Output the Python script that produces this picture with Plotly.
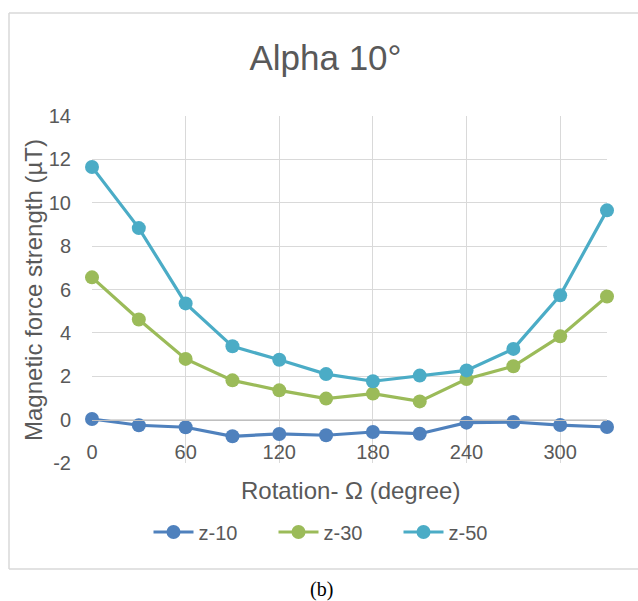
import plotly.graph_objects as go

rotation = [0, 30, 60, 90, 120, 150, 180, 210, 240, 270, 300, 330]
z10 = [0.03, -0.26, -0.35, -0.77, -0.66, -0.72, -0.57, -0.65, -0.14, -0.11, -0.25, -0.34]
z30 = [6.56, 4.62, 2.80, 1.81, 1.35, 0.97, 1.20, 0.84, 1.87, 2.46, 3.84, 5.68]
z50 = [11.65, 8.83, 5.36, 3.38, 2.76, 2.10, 1.77, 2.03, 2.27, 3.26, 5.73, 9.65]
series = [("z-10", z10, "#4F81BD"), ("z-30", z30, "#9BBB59"), ("z-50", z50, "#4BACC6")]
y_ticks = [-2, 0, 2, 4, 6, 8, 10, 12, 14]
y_tick_labels = ["-2", "0", "2", "4", "6", "8", "10", "12", "14"]
x_ticks = [0, 60, 120, 180, 240, 300]
x_tick_labels = ["0", "60", "120", "180", "240", "300"]

TXT = "#595959"
GRID = "#D9D9D9"
FONT = "Liberation Sans, Arial, sans-serif"

W, H = 638, 601
L, R, T, B = 92, 31, 116, 138
pw, ph = W - L - R, H - T - B

def px_x(x):
    return (x - L) / pw

def px_y(y):
    return (H - B - y) / ph

fig = go.Figure()
for name, vals, col in series:
    fig.add_trace(go.Scatter(
        x=rotation, y=vals, name=name, mode="lines+markers",
        line=dict(color=col, width=3.2),
        marker=dict(color=col, size=14),
        cliponaxis=False,
    ))

fig.update_layout(
    width=W, height=H,
    margin=dict(l=L, r=R, t=T, b=B),
    paper_bgcolor="white", plot_bgcolor="white",
    font=dict(family=FONT, color=TXT, size=20),
    title=dict(text="Alpha 10°", x=325.5 / W, xanchor="center",
               y=1 - 58 / H, yanchor="middle", yref="container",
               font=dict(size=35, color=TXT, family=FONT)),
    showlegend=True,
    legend=dict(orientation="h", x=px_x(336), xanchor="center",
                y=px_y(532), yanchor="middle",
                font=dict(size=20, color=TXT, family=FONT),
                itemwidth=40, tracegroupgap=0,
                entrywidth=70, entrywidthmode="pixels"),
    xaxis=dict(range=[0, 330], tickvals=x_ticks, ticktext=x_tick_labels,
               showgrid=True, gridcolor=GRID, gridwidth=1, zeroline=False,
               showline=True, linecolor="#BFBFBF", linewidth=1,
               anchor="free", position=2 / 16, ticks="",
               ticklabelstandoff=14,
               tickfont=dict(size=20, color=TXT, family=FONT)),
    yaxis=dict(range=[-2, 14], tickvals=y_ticks, ticktext=y_tick_labels,
               showgrid=True, gridcolor=GRID, gridwidth=1, zeroline=False,
               showline=False, ticks="", ticklabelstandoff=20,
               tickfont=dict(size=20, color=TXT, family=FONT)),
)

fig.add_annotation(text="Rotation- Ω (degree)", xref="paper", yref="paper",
                   x=px_x(350), y=px_y(490), showarrow=False,
                   xanchor="center", yanchor="middle",
                   font=dict(size=24, color=TXT, family=FONT))
fig.add_annotation(text="Magnetic force strength (µT)", xref="paper", yref="paper",
                   x=px_x(33), y=px_y(290), showarrow=False, textangle=-90,
                   xanchor="center", yanchor="middle",
                   font=dict(size=24, color=TXT, family=FONT))
fig.add_annotation(text="(b)", xref="paper", yref="paper",
                   x=px_x(321), y=px_y(589), showarrow=False,
                   xanchor="center", yanchor="middle",
                   font=dict(size=20, color="black",
                             family="Liberation Serif, Times New Roman, serif"))

frame = dict(xref="paper", yref="paper", line=dict(color=GRID, width=1.5), layer="below")
fig.add_shape(type="line", x0=px_x(9), x1=px_x(9), y0=px_y(569), y1=px_y(13), **frame)
fig.add_shape(type="line", x0=px_x(9), x1=px_x(700), y0=px_y(13), y1=px_y(13), **frame)
fig.add_shape(type="line", x0=px_x(9), x1=px_x(700), y0=px_y(569), y1=px_y(569), **frame)

fig.write_html("out.html", config={"displayModeBar": False},
               post_script="document.body.style.margin='0px';document.body.style.overflow='hidden';")
